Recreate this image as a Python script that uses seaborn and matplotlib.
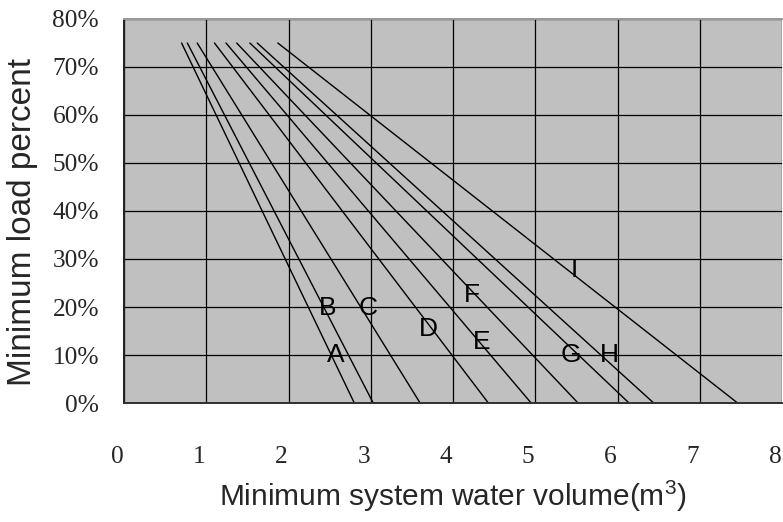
import numpy as np
import pandas as pd
import seaborn as sns
import matplotlib
matplotlib.use("Agg")
import matplotlib.pyplot as plt
from matplotlib.transforms import ScaledTranslation

# ---- data ----
series = ["A", "B", "C", "D", "E", "F", "G", "H", "I"]
x_start = [0.70, 0.77, 0.89, 1.10, 1.24, 1.37, 1.53, 1.62, 1.87]   # volume at 75 % load
x_end = [2.80, 3.03, 3.60, 4.43, 4.95, 5.52, 6.14, 6.44, 7.46]     # volume at 0 % load
load_start = 75
load_end = 0
label_x = [2.58, 2.47, 2.97, 3.70, 4.35, 4.23, 5.43, 5.90, 5.48]
label_y = [10.0, 19.8, 19.8, 15.4, 12.8, 22.5, 10.0, 10.0, 27.8]
x_ticks = [0, 1, 2, 3, 4, 5, 6, 7, 8]
y_ticks = [0, 10, 20, 30, 40, 50, 60, 70, 80]
y_tick_labels = [f"{v}%" for v in y_ticks]

rows = []
for s, xs, xe in zip(series, x_start, x_end):
    rows.append({"series": s, "volume": xs, "load": load_start})
    rows.append({"series": s, "volume": xe, "load": load_end})
df = pd.DataFrame(rows)

sns.set_style("white", {"axes.facecolor": "#C0C0C0"})
plt.rcParams["font.family"] = ["Liberation Sans", "DejaVu Sans"]
plt.rcParams["mathtext.default"] = "regular"

fig = plt.figure(figsize=(7.83, 5.22), dpi=100)
ax = fig.add_axes([124 / 783, 1 - 403 / 522, (782 - 124) / 783, (403 - 19) / 522])

sns.lineplot(data=df, x="volume", y="load", units="series", estimator=None,
             color="black", lw=1.0, ax=ax, legend=False)

for s, lx, ly in zip(series, label_x, label_y):
    ax.text(lx, ly, s, ha="center", va="center", fontsize=19, color="black",
            family=["Liberation Sans", "DejaVu Sans"])

ax.set_xlim(0, 8)
ax.set_ylim(0, 80)
ax.set_xticks(x_ticks)
ax.set_yticks(y_ticks)
ax.set_yticklabels(y_tick_labels)
ax.grid(True, color="black", lw=0.9)
ax.set_axisbelow(True)

ax.tick_params(axis="both", direction="in", length=7, width=1.2, color="#303030",
               labelsize=18.3)
ax.tick_params(axis="y", pad=18)
ax.tick_params(axis="x", pad=31)
for lab in ax.get_xticklabels() + ax.get_yticklabels():
    lab.set_family(["Liberation Serif", "DejaVu Serif"])
offset = ScaledTranslation(-7 / 100, 0, fig.dpi_scale_trans)
for lab in ax.get_xticklabels():
    lab.set_transform(lab.get_transform() + offset)

ax.spines["left"].set_color("#202020")
ax.spines["left"].set_linewidth(1.4)
ax.spines["bottom"].set_color("#303030")
ax.spines["bottom"].set_linewidth(1.4)
ax.spines["top"].set_color("#9a9a9a")
ax.spines["top"].set_linewidth(1.4)
ax.spines["right"].set_visible(False)

ax.set_xlabel("Minimum system water volume(m$^{3}$)", fontsize=21.5, labelpad=8)
ax.set_ylabel("Minimum load percent", fontsize=24, va="center")
ax.yaxis.set_label_coords(-0.154, 0.471)

fig.savefig("out.png", dpi=100)
